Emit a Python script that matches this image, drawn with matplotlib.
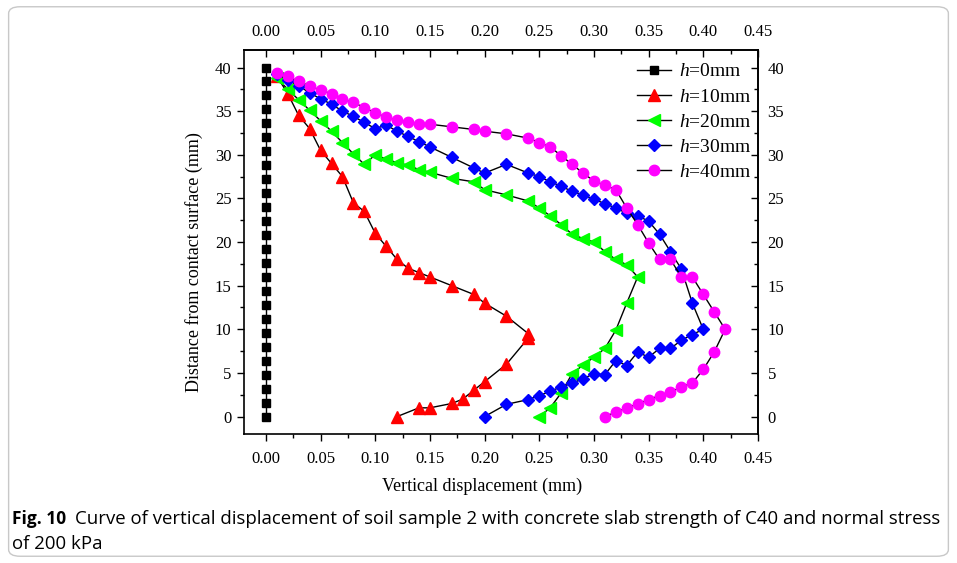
import matplotlib
matplotlib.use("Agg")
import matplotlib.pyplot as plt
from matplotlib.ticker import MultipleLocator, FormatStrFormatter
from matplotlib.patches import FancyBboxPatch

plt.rcParams['font.family'] = ['Liberation Serif', 'DejaVu Serif']
plt.rcParams['mathtext.fontset'] = 'custom'
plt.rcParams['mathtext.rm'] = 'Liberation Serif'
plt.rcParams['mathtext.it'] = 'Liberation Serif:italic'

# ---- data ----
h0_x = [0.0] * 26
h0_y = [0.0, 1.6, 3.2, 4.8, 6.4, 8.0, 9.6, 11.2, 12.8, 14.4, 16.0, 17.6, 19.2,
        20.8, 22.4, 24.0, 25.6, 27.2, 28.8, 30.4, 32.0, 33.6, 35.2, 36.8, 38.4, 40.0]

h10_x = [0.01, 0.02, 0.03, 0.04, 0.05, 0.06, 0.07, 0.08, 0.09, 0.10, 0.11, 0.12, 0.13,
         0.14, 0.15, 0.17, 0.19, 0.20, 0.22, 0.24, 0.24, 0.22, 0.20, 0.19, 0.18, 0.17,
         0.15, 0.14, 0.12]
h10_y = [39.0, 37.0, 34.5, 33.0, 30.5, 29.0, 27.5, 24.5, 23.5, 21.0, 19.5, 18.0, 17.0,
         16.5, 16.0, 15.0, 14.0, 13.0, 11.5, 9.5, 9.0, 6.0, 4.0, 3.0, 2.0, 1.5,
         1.0, 1.0, 0.0]

h20_x = [0.01, 0.02, 0.03, 0.04, 0.05, 0.06, 0.07, 0.08, 0.09, 0.10, 0.11, 0.12, 0.13,
         0.14, 0.15, 0.17, 0.19, 0.20, 0.22, 0.24, 0.25, 0.26, 0.27, 0.28, 0.29, 0.30,
         0.31, 0.32, 0.33, 0.34, 0.33, 0.32, 0.31, 0.30, 0.29, 0.28, 0.27, 0.26, 0.25]
h20_y = [38.8, 37.5, 36.3, 35.1, 33.9, 32.7, 31.4, 30.1, 28.9, 30.0, 29.5, 29.1, 28.8,
         28.3, 28.0, 27.3, 26.9, 26.0, 25.4, 24.7, 23.9, 23.0, 22.0, 20.9, 20.4, 20.0,
         18.9, 18.0, 17.4, 16.0, 13.0, 9.9, 7.8, 6.8, 5.9, 4.9, 2.7, 1.0, 0.0]

h30_x = [0.01, 0.02, 0.03, 0.04, 0.05, 0.06, 0.07, 0.08, 0.09, 0.10, 0.11, 0.12, 0.13,
         0.14, 0.15, 0.17, 0.19, 0.20, 0.22, 0.24, 0.25, 0.26, 0.27, 0.28, 0.29, 0.30,
         0.31, 0.32, 0.33, 0.34, 0.35, 0.36, 0.37, 0.38, 0.39, 0.40, 0.39, 0.38, 0.37,
         0.36, 0.35, 0.34, 0.33, 0.32, 0.31, 0.30, 0.29, 0.28, 0.27, 0.26, 0.25, 0.24,
         0.22, 0.20]
h30_y = [39.2, 38.6, 37.9, 37.1, 36.4, 35.8, 35.0, 34.4, 33.7, 33.0, 33.4, 32.7, 32.1,
         31.5, 30.9, 29.7, 28.5, 27.9, 28.9, 27.9, 27.5, 26.9, 26.4, 25.8, 25.4, 24.9,
         24.4, 23.9, 23.3, 23.0, 22.4, 20.9, 18.9, 16.9, 13.0, 10.0, 9.4, 8.75, 7.8,
         7.8, 6.8, 7.4, 5.85, 6.4, 4.8, 4.9, 4.35, 3.8, 3.4, 2.9, 2.4, 1.95,
         1.4, 0.0]

h40_x = [0.01, 0.02, 0.03, 0.04, 0.05, 0.06, 0.07, 0.08, 0.09, 0.10, 0.11, 0.12, 0.13,
         0.14, 0.15, 0.17, 0.19, 0.20, 0.22, 0.24, 0.25, 0.26, 0.27, 0.28, 0.29, 0.30,
         0.31, 0.32, 0.33, 0.34, 0.35, 0.36, 0.37, 0.38, 0.39, 0.40, 0.41, 0.42, 0.41,
         0.40, 0.39, 0.38, 0.37, 0.36, 0.35, 0.34, 0.33, 0.32, 0.31]
h40_y = [39.4, 39.0, 38.4, 37.9, 37.4, 37.0, 36.4, 36.0, 35.4, 34.8, 34.3, 34.0, 33.7,
         33.5, 33.5, 33.2, 32.9, 32.7, 32.4, 31.9, 31.4, 30.9, 29.9, 28.9, 27.9, 27.0,
         26.5, 26.0, 23.9, 22.0, 19.9, 18.0, 18.0, 16.0, 16.0, 14.0, 12.0, 10.0, 7.4,
         5.4, 3.85, 3.4, 2.8, 2.4, 1.95, 1.45, 1.0, 0.5, 0.0]

labels = ['$h$=0mm', '$h$=10mm', '$h$=20mm', '$h$=30mm', '$h$=40mm']
colors = ['#000000', '#FF0000', '#00FF00', '#0000FF', '#FF00FF']
markers = ['s', '^', '<', 'D', 'o']
msizes = [5.5, 8.0, 8.0, 6.5, 7.5]

x_ticks = [0.00, 0.05, 0.10, 0.15, 0.20, 0.25, 0.30, 0.35, 0.40, 0.45]
y_ticks = [0, 5, 10, 15, 20, 25, 30, 35, 40]

xlabel = 'Vertical displacement (mm)'
ylabel = 'Distance from contact surface (mm)'
cap_bold = 'Fig. 10'
cap_line1 = 'Curve of vertical displacement of soil sample 2 with concrete slab strength of C40 and normal stress'
cap_line2 = 'of 200 kPa'

# ---- figure ----
fig = plt.figure(figsize=(9.57, 5.63), dpi=100)
border = FancyBboxPatch((0.009, 0.012), 0.982, 0.976, boxstyle='round,pad=0,rounding_size=0.012',
                        transform=fig.transFigure, fill=False, edgecolor='#c8c8c8', linewidth=1.0)
fig.patches.append(border)

ax = fig.add_axes([0.255, 0.2291, 0.537, 0.682])
series = [(h0_x, h0_y), (h10_x, h10_y), (h20_x, h20_y), (h30_x, h30_y), (h40_x, h40_y)]
for (xs, ys), lab, c, m, ms in zip(series, labels, colors, markers, msizes):
    ax.plot(xs, ys, color='black', linewidth=1.0, marker=m, markersize=ms,
            markerfacecolor=c, markeredgecolor=c, label=lab)

ax.set_xlim(-0.02, 0.45)
ax.set_ylim(-2, 42)
ax.set_xticks(x_ticks)
ax.set_yticks(y_ticks)
ax.xaxis.set_major_formatter(FormatStrFormatter('%.2f'))
ax.xaxis.set_minor_locator(MultipleLocator(0.025))
ax.yaxis.set_minor_locator(MultipleLocator(2.5))
ax.tick_params(axis='both', which='major', labelsize=12, width=1.0, length=5, direction='out')
ax.tick_params(axis='both', which='minor', width=1.0, length=3, direction='out')
ax.tick_params(axis='x', which='major', pad=7.5)
ax.tick_params(axis='y', which='major', pad=4)
for s in ax.spines.values():
    s.set_linewidth(1.2)

# top axis (inward ticks)
secx = ax.secondary_xaxis('top')
secx.set_xticks(x_ticks)
secx.xaxis.set_major_formatter(FormatStrFormatter('%.2f'))
secx.xaxis.set_minor_locator(MultipleLocator(0.025))
secx.tick_params(which='major', direction='in', length=5, width=1.0, labelsize=12, pad=7)
secx.tick_params(which='minor', direction='in', length=3, width=1.0)
secx.spines['top'].set_linewidth(1.2)

# right axis (inward ticks)
secy = ax.secondary_yaxis('right')
secy.set_yticks(y_ticks)
secy.yaxis.set_minor_locator(MultipleLocator(2.5))
secy.tick_params(which='major', direction='in', length=5, width=1.0, labelsize=12, pad=7)
secy.tick_params(which='minor', direction='in', length=3, width=1.0)
secy.spines['right'].set_linewidth(1.2)

ax.set_xlabel(xlabel, fontsize=13)
ax.set_ylabel(ylabel, fontsize=13)
ax.xaxis.set_label_coords(0.464, -0.113)
ax.yaxis.set_label_coords(-0.079, 0.448)

leg = ax.legend(loc='upper right', bbox_to_anchor=(0.988, 0.967), frameon=False, fontsize=14,
                handlelength=1.75, handletextpad=0.45, labelspacing=0.39, borderpad=0,
                borderaxespad=0)

fig.text(0.013, 0.069, cap_bold, fontsize=12.5, fontweight='bold', family='Open Sans', va='baseline')
fig.text(0.078, 0.069, cap_line1, fontsize=13.4, family='Open Sans', va='baseline')
fig.text(0.013, 0.024, cap_line2, fontsize=13.4, family='Open Sans', va='baseline')

fig.savefig('out.png', dpi=100)
